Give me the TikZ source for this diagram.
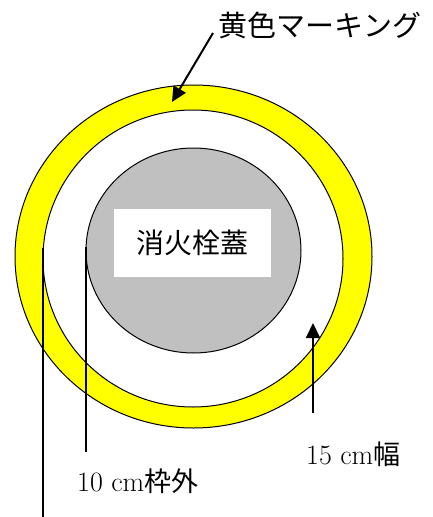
\documentclass[tikz,border=0pt]{standalone}
\usepackage{fontspec}
\newfontfamily\cjk{Noto Sans CJK JP}
\usetikzlibrary{arrows.meta}
\definecolor{capgray}{HTML}{C0C0C0}
\definecolor{markyellow}{HTML}{FFFF00}
\tikzset{
  ring/.style={draw=black, line width=1pt},
  leader/.style={draw=black, line width=1.5pt},
  pointer/.style={draw=black, line width=2pt, -{Triangle[length=15pt,width=14pt]}},
  lbl/.style={inner sep=0pt, font=\fontsize{28}{30}\selectfont},
  cjklbl/.style={inner sep=0pt, font=\fontsize{29}{31}\selectfont\cjk}
}
\begin{document}
\begin{tikzpicture}[x=1pt,y=-1pt]
\useasboundingbox (0,0) rectangle (432,517);
% rings
\path[ring, fill=markyellow] (193.5,256.5) ellipse [x radius=178.5, y radius=171.5];
\path[ring, fill=white] (193,258.5) ellipse [x radius=150, y radius=148.5];
\path[ring, fill=capgray] (193.5,250.5) ellipse [x radius=107.5, y radius=102.5];
% cap label
\node[fill=white, minimum width=157pt, minimum height=68pt, inner sep=0pt,
      font=\fontsize{28}{30}\selectfont\cjk] (cap) at (192.5,243) {消火栓蓋};
% texts
\node[cjklbl] (yl) at (320,25) {黄色マーキング};
\node[lbl, anchor=west] (w15) at (306,454) {15 cm{\cjk\fontsize{27}{29}\selectfont 幅}};
\node[lbl, anchor=west] (w10) at (77,481) {10 cm{\cjk\fontsize{27}{29}\selectfont 枠外}};
% coordinates
\coordinate (a1s) at (213,33);
\coordinate (a1e) at (172,102);
\coordinate (a2s) at (313,413);
\coordinate (a2e) at (313,323);
\coordinate (l1s) at (43,248);
\coordinate (l1e) at (43,517);
\coordinate (l2s) at (86,247);
\coordinate (l2e) at (86,452);
% connectors
\draw[pointer] (a1s) -- (a1e);
\draw[pointer] (a2s) -- (a2e);
\draw[leader] (l1s) -- (l1e);
\draw[leader] (l2s) -- (l2e);
\end{tikzpicture}
\end{document}
